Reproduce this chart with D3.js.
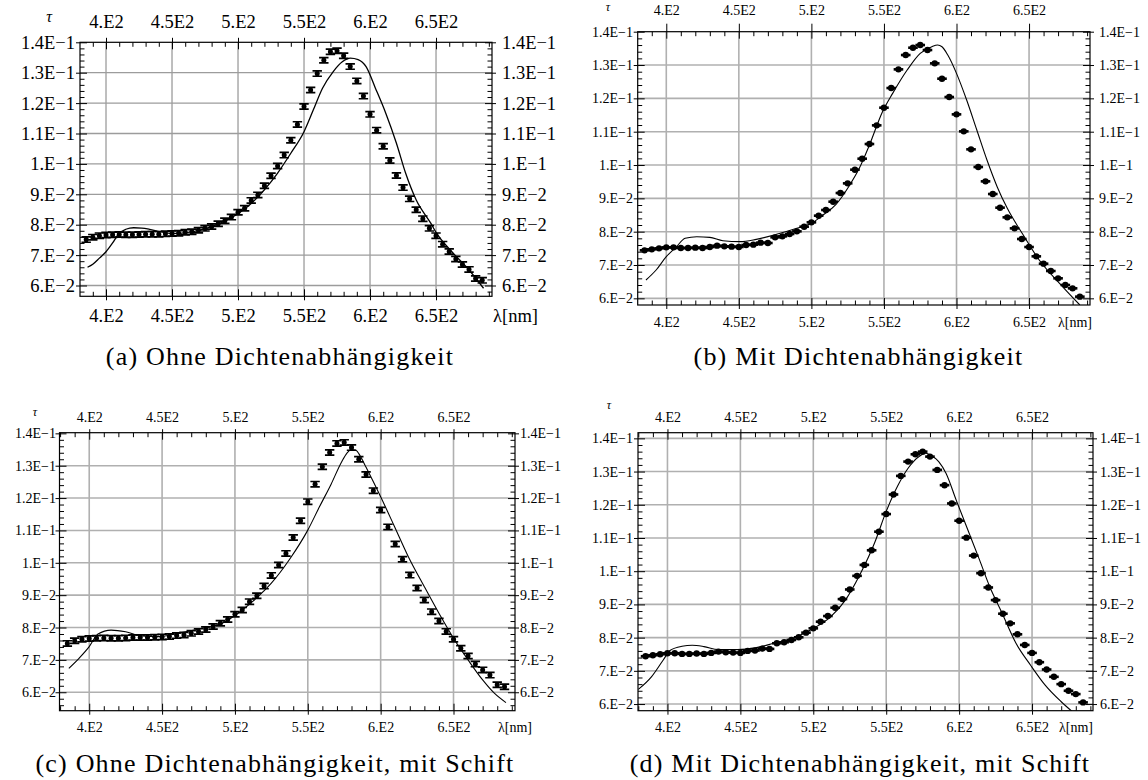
<!DOCTYPE html>
<html>
<head>
<meta charset="utf-8">
<script src="https://cdn.jsdelivr.net/npm/d3@7"></script>
<style>
  body { margin: 0; background: #fff; }
  svg { display: block; }
  text { font-family: "Liberation Serif", "DejaVu Serif", "Noto Serif", FreeSerif, Times, serif; fill: #000; }
</style>
</head>
<body>
<div id="chart"></div>
<script>
// wellenlaengen der messpunkte [nm]
const lambda = [385, 390, 395, 400, 405, 410, 415, 420, 425, 430, 435, 440, 445, 450, 455, 460,
  465, 470, 475, 480, 485, 490, 495, 500, 505, 510, 515, 520, 525, 530, 535, 540, 545, 550, 555,
  560, 565, 570, 575, 580, 585, 590, 595, 600, 605, 610, 615, 620, 625, 630, 635, 640, 645, 650,
  655, 660, 665, 670, 675, 680, 685]

// tau ohne dichteabhaengigkeit (a, c)
const tauOhne = [0.0751, 0.0759, 0.0764, 0.0766, 0.0767, 0.0768, 0.0767, 0.0767, 0.0768, 0.0769,
  0.0769, 0.0769, 0.0770, 0.0771, 0.0772, 0.0775, 0.0777, 0.0782, 0.0788, 0.0794, 0.0803, 0.0813,
  0.0825, 0.0841, 0.0854, 0.0880, 0.0898, 0.0928, 0.0961, 0.0993, 0.1029, 0.1078, 0.1130, 0.1189,
  0.1243, 0.1297, 0.1341, 0.1369, 0.1372, 0.1356, 0.1320, 0.1273, 0.1223, 0.1163, 0.1111, 0.1058,
  0.1011, 0.0962, 0.0922, 0.0885, 0.0849, 0.0820, 0.0788, 0.0764, 0.0736, 0.0712, 0.0687, 0.0669,
  0.0653, 0.0623, 0.0617]

// tau mit dichteabhaengigkeit (b, d)
const tauMit = [0.0744, 0.0747, 0.0750, 0.0753, 0.0753, 0.0751, 0.0751, 0.0752, 0.0751, 0.0754,
  0.0758, 0.0756, 0.0755, 0.0754, 0.0760, 0.0761, 0.0767, 0.0766, 0.0783, 0.0786, 0.0793, 0.0801,
  0.0815, 0.0828, 0.0848, 0.0865, 0.0890, 0.0916, 0.0945, 0.0986, 0.1019, 0.1063, 0.1119, 0.1172,
  0.1231, 0.1287, 0.1330, 0.1352, 0.1360, 0.1345, 0.1305, 0.1259, 0.1204, 0.1152, 0.1101, 0.1047,
  0.0994, 0.0951, 0.0913, 0.0872, 0.0843, 0.0810, 0.0778, 0.0754, 0.0726, 0.0704, 0.0682, 0.0660,
  0.0640, 0.0630, 0.0605]

// modellkurven
const fitALam = [386, 390, 395, 400, 405, 410, 415, 421, 427, 433, 441, 450, 460, 470, 480, 490,
  500, 510, 520, 530, 540, 550, 557, 564, 572, 579, 585, 591, 597, 604, 612, 620, 627, 635, 646,
  650, 662, 675, 686]
const fitA = [0.0660, 0.0670, 0.0690, 0.0711, 0.0740, 0.0772, 0.0785, 0.0790, 0.0789, 0.0785,
  0.0777, 0.0771, 0.0773, 0.0781, 0.0794, 0.0812, 0.0836, 0.0870, 0.0915, 0.0970, 0.1035, 0.1106,
  0.1177, 0.1249, 0.1303, 0.1336, 0.1348, 0.1343, 0.1320, 0.1250, 0.1166, 0.1068, 0.0969, 0.0881,
  0.0805, 0.0775, 0.0711, 0.0651, 0.0591]

const fitBLam = [386, 393, 400, 407, 413, 421, 430, 439, 451, 462, 476, 490, 500, 508, 517, 526,
  533, 540, 549, 556, 566, 575, 583, 587, 590, 594, 600, 607, 614, 621, 628, 635, 646, 657, 671, 685]
const fitB = [0.0655, 0.0685, 0.0725, 0.0755, 0.0780, 0.0785, 0.0783, 0.0773, 0.0770, 0.0777,
  0.0792, 0.0810, 0.0825, 0.0850, 0.0882, 0.0937, 0.0990, 0.1060, 0.1160, 0.1215, 0.1285, 0.1335,
  0.1355, 0.1360, 0.1355, 0.1330, 0.1275, 0.1195, 0.1105, 0.1015, 0.0935, 0.0870, 0.0790, 0.0715,
  0.0645, 0.0580]

const fitCLam = [386, 393, 400, 406, 415, 425, 436, 448, 461, 476, 492, 500, 512, 525, 538, 550,
  558, 566, 573, 577, 580, 583, 586, 590, 600, 609, 619, 630, 640, 650, 660, 670, 678, 686]
const fitC = [0.0674, 0.0705, 0.0741, 0.0780, 0.0792, 0.0787, 0.0774, 0.0772, 0.0782, 0.0796,
  0.0815, 0.0837, 0.0880, 0.0937, 0.1014, 0.1101, 0.1173, 0.1243, 0.1310, 0.1340, 0.1350, 0.1348,
  0.1330, 0.1295, 0.1204, 0.1117, 0.1019, 0.0926, 0.0844, 0.0767, 0.0700, 0.0638, 0.0597, 0.0568]

const fitDLam = [380, 389, 397, 402, 410, 417, 425, 435, 448, 461, 473, 486, 499, 512, 522, 532,
  542, 550, 558, 565, 573, 577, 580, 586, 591, 598, 606, 614, 621, 629, 639, 649, 659, 670, 679]
const fitD = [0.0644, 0.0682, 0.0732, 0.0762, 0.0774, 0.0777, 0.0773, 0.0764, 0.0764, 0.0770,
  0.0783, 0.0798, 0.0825, 0.0863, 0.0913, 0.0990, 0.1085, 0.1180, 0.1258, 0.1310, 0.1347, 0.1355,
  0.1350, 0.1330, 0.1295, 0.1214, 0.1124, 0.1034, 0.0953, 0.0878, 0.0783, 0.0717, 0.0657, 0.0607,
  0.0572]

// achsen
const xTicks = [400, 450, 500, 550, 600, 650]
const xTickLabels = ["4.E2", "4.5E2", "5.E2", "5.5E2", "6.E2", "6.5E2"]
const yTicks = [0.06, 0.07, 0.08, 0.09, 0.10, 0.11, 0.12, 0.13, 0.14]
const yTickLabels = ["6.E\u22122", "7.E\u22122", "8.E\u22122", "9.E\u22122", "1.E\u22121",
  "1.1E\u22121", "1.2E\u22121", "1.3E\u22121", "1.4E\u22121"]
const captions = ["(a) Ohne Dichtenabhängigkeit", "(b) Mit Dichtenabhängigkeit",
  "(c) Ohne Dichtenabhängigkeit, mit Schift", "(d) Mit Dichtenabhängigkeit, mit Schift"]

const FONT = '"Liberation Serif", "DejaVu Serif", "Noto Serif", FreeSerif, Times, serif'

const panels = [
  { id: 'a', left: 80, right: 492, top: 42.3, bottom: 296.3, xDom: [380.3, 692.4], yDom: [0.05645, 0.14],
    font: 18.5, tau: tauOhne, fitLam: fitALam, fit: fitA, marker: 'ibeam',
    leftX: 75, rightX: 502, topBase: 28, botBase: 322, tauPos: [49, 22], tauSize: 16, lamX: 493,
    capX: 280, capBase: 365, majOutTop: 4.5, grid: '#9c9c9c', gridW: 1.3, lineW: 1.3 },
  { id: 'b', left: 637.7, right: 1090, top: 31.7, bottom: 305, xDom: [380.3, 692], yDom: [0.058, 0.14],
    font: 14, tau: tauMit, fitLam: fitBLam, fit: fitB, marker: 'dot',
    leftX: 633, rightX: 1099, topBase: 15, botBase: 327, tauPos: [608, 11], tauSize: 12, lamX: 1058,
    capX: 858.5, capBase: 365, majOutTop: 8, grid: '#b0b0b0', gridW: 1.6, lineW: 1.1 },
  { id: 'c', left: 59.5, right: 515, top: 432.7, bottom: 710.7, xDom: [379.6, 692.2], yDom: [0.0543, 0.1402],
    font: 14, tau: tauOhne, fitLam: fitCLam, fit: fitC, marker: 'ibeam',
    leftX: 56, rightX: 520, topBase: 421.7, botBase: 731.7, tauPos: [35, 416], tauSize: 12, lamX: 498,
    capX: 275, capBase: 771.7, majOutTop: 3.5, grid: '#b0b0b0', gridW: 1.6, lineW: 1.1 },
  { id: 'd', left: 638, right: 1093, top: 432.7, bottom: 710.7, xDom: [379.8, 691.8], yDom: [0.058, 0.1417],
    font: 14, tau: tauMit, fitLam: fitDLam, fit: fitD, marker: 'dot',
    leftX: 633, rightX: 1100, topBase: 421.7, botBase: 731.7, tauPos: [609, 409], tauSize: 12, lamX: 1059,
    capX: 860, capBase: 771.7, majOutTop: 3.5, grid: '#b0b0b0', gridW: 1.6, lineW: 1.1 }
]

const svg = d3.select('#chart').append('svg')
  .attr('width', 1148)
  .attr('height', 780)

// kleine striche alle 10 nm bzw. 0.002
const xMinor = d3.range(38, 70).map(k => k * 10).filter(v => v % 50 !== 0)
const yMinor = d3.range(27, 72).filter(k => k % 5 !== 0).map(k => k * 0.002)

function drawPanel(p, i) {
  const x = d3.scaleLinear().domain(p.xDom).range([p.left, p.right])
  const y = d3.scaleLinear().domain(p.yDom).range([p.bottom, p.top])
  const g = svg.append('g')
  const w = p.right - p.left, h = p.bottom - p.top

  g.append('clipPath').attr('id', 'clip-' + p.id)
    .append('rect').attr('x', p.left).attr('y', p.top).attr('width', w).attr('height', h)

  // gitter
  g.append('g').selectAll('line').data(xTicks).join('line')
    .attr('x1', d => x(d)).attr('x2', d => x(d)).attr('y1', p.top).attr('y2', p.bottom)
    .attr('stroke', p.grid).attr('stroke-width', p.gridW)
  g.append('g').selectAll('line').data(yTicks.filter(v => v < p.yDom[1] - 0.0003)).join('line')
    .attr('y1', d => y(d)).attr('y2', d => y(d)).attr('x1', p.left).attr('x2', p.right)
    .attr('stroke', p.grid).attr('stroke-width', p.gridW)

  // modell
  const line = d3.line().x(d => x(d[0])).y(d => y(d[1])).curve(d3.curveMonotoneX)
  g.append('path')
    .datum(d3.zip(p.fitLam, p.fit))
    .attr('clip-path', 'url(#clip-' + p.id + ')')
    .attr('d', line)
    .attr('fill', 'none')
    .attr('stroke', '#000')
    .attr('stroke-width', p.lineW)

  // messpunkte
  const pts = g.append('g').selectAll('g').data(d3.zip(lambda, p.tau)).join('g')
    .attr('transform', d => `translate(${x(d[0])},${y(d[1])})`)
  if (p.marker === 'ibeam') {
    pts.append('path')
      .attr('d', 'M-4.7,-3.5h9.4v1.7h-3v3.6h3v1.7h-9.4v-1.7h3v-3.6h-3z')
      .attr('fill', '#000')
    pts.append('circle').attr('r', 2.5).attr('fill', '#000')
  } else {
    pts.append('circle').attr('r', 3.2).attr('fill', '#000')
    pts.append('rect').attr('x', -4.8).attr('y', -1.3).attr('width', 9.6).attr('height', 2.6).attr('fill', '#000')
  }

  // achsen mit beschriftung
  const fmtX = d => xTickLabels[xTicks.indexOf(d)]
  const fmtY = d => yTickLabels[yTicks.findIndex(v => Math.abs(v - d) < 1e-9)]
  const styleAxis = sel => {
    sel.attr('font-family', FONT).attr('font-size', p.font)
    sel.select('.domain').remove()
    sel.selectAll('line').attr('stroke', '#000').attr('stroke-width', 1)
  }
  g.append('g').attr('transform', `translate(0,${p.bottom})`)
    .call(d3.axisBottom(x).tickValues(xTicks).tickFormat(fmtX).tickSizeInner(4).tickSizeOuter(0)
      .tickPadding(p.botBase - p.bottom - 0.71 * p.font - 4))
    .call(styleAxis)
  g.append('g').attr('transform', `translate(0,${p.top})`)
    .call(d3.axisTop(x).tickValues(xTicks).tickFormat(fmtX).tickSizeInner(p.majOutTop).tickSizeOuter(0)
      .tickPadding(p.top - p.majOutTop - p.topBase))
    .call(styleAxis)
  const yVis = yTicks.filter(v => v <= p.yDom[1] + 1e-6)
  g.append('g').attr('transform', `translate(${p.left},0)`)
    .call(d3.axisLeft(y).tickValues(yVis).tickFormat(fmtY).tickSizeInner(4).tickSizeOuter(0)
      .tickPadding(p.left - 4 - p.leftX))
    .call(styleAxis)
  g.append('g').attr('transform', `translate(${p.right},0)`)
    .call(d3.axisRight(y).tickValues(yVis).tickFormat(fmtY).tickSizeInner(4).tickSizeOuter(0)
      .tickPadding(p.rightX - p.right - 4))
    .call(styleAxis)

  // innere striche
  const inner = (axis, pos, vals, len) => {
    g.append('g').attr('transform', pos)
      .call(axis.tickValues(vals).tickFormat('').tickSizeInner(-len).tickSizeOuter(0))
      .call(sel => {
        sel.select('.domain').remove()
        sel.selectAll('line').attr('stroke', '#000').attr('stroke-width', 1)
      })
  }
  const xm = xMinor.filter(v => v > p.xDom[0] && v < p.xDom[1])
  const ym = yMinor.filter(v => v > p.yDom[0] && v < p.yDom[1] - 0.0003)
  inner(d3.axisBottom(x), `translate(0,${p.bottom})`, xm, 4.5)
  inner(d3.axisTop(x), `translate(0,${p.top})`, xm, 4.5)
  inner(d3.axisBottom(x), `translate(0,${p.bottom})`, xTicks, 7)
  inner(d3.axisTop(x), `translate(0,${p.top})`, xTicks, 7)
  inner(d3.axisLeft(y), `translate(${p.left},0)`, ym, 4.5)
  inner(d3.axisRight(y), `translate(${p.right},0)`, ym, 4.5)
  inner(d3.axisLeft(y), `translate(${p.left},0)`, yVis, 7)
  inner(d3.axisRight(y), `translate(${p.right},0)`, yVis, 7)

  // rahmen
  g.append('rect')
    .attr('x', p.left).attr('y', p.top).attr('width', w).attr('height', h)
    .attr('fill', 'none').attr('stroke', '#000').attr('stroke-width', 1.2)

  g.append('text')
    .attr('x', p.tauPos[0]).attr('y', p.tauPos[1])
    .attr('text-anchor', 'middle')
    .attr('font-family', FONT)
    .attr('font-style', 'italic')
    .attr('font-size', p.tauSize)
    .text('τ')
  g.append('text')
    .attr('x', p.lamX).attr('y', p.botBase)
    .attr('font-family', FONT)
    .attr('font-size', p.font)
    .text('λ[nm]')

  g.append('text')
    .attr('x', p.capX).attr('y', p.capBase)
    .attr('text-anchor', 'middle')
    .attr('font-family', FONT)
    .attr('font-size', 26)
    .attr('letter-spacing', 1.2)
    .text(captions[i])
}

panels.forEach(drawPanel)
</script>
</body>
</html>
